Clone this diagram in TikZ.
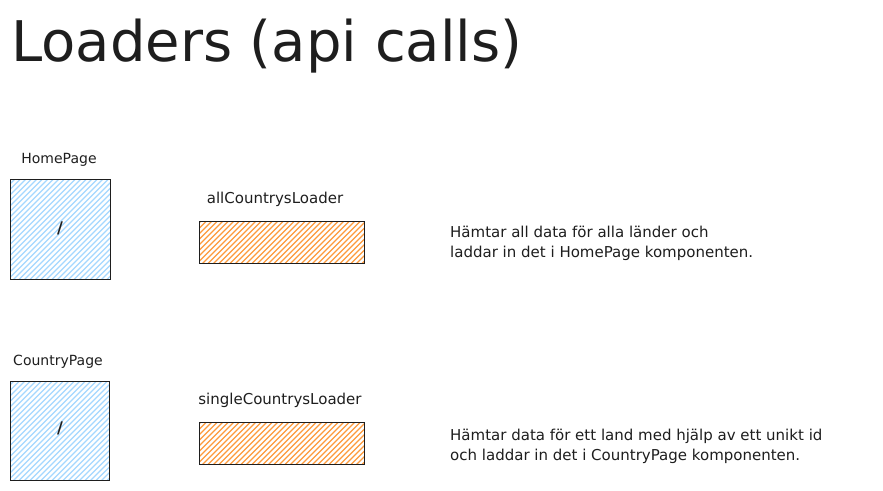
\documentclass[tikz,border=0pt]{standalone}
\usepackage{fontspec}
\setmainfont{DejaVu Sans}
\definecolor{ink}{HTML}{1E1E1E}
\definecolor{hblue}{HTML}{A5D8FF}
\definecolor{horange}{HTML}{FD9A3C}
\newcommand\hatchbox[3]{%
  \begin{scope}
    \clip (#1.south west) rectangle (#1.north east);
    \foreach \k in {0,...,80}
      \draw[#2, line width=1.1pt] (#1.south west) ++(\k*#3-120,2) -- ++(130,-130);
  \end{scope}}
\begin{document}
\begin{tikzpicture}[x=1pt,y=-1pt,
  boxline/.style={draw=ink, line width=1.1pt},
  lbl/.style={font=\fontsize{14}{16}\selectfont, text=ink, inner sep=0pt},
  biglbl/.style={font=\fontsize{15}{17}\selectfont, text=ink, inner sep=0pt},
  desc/.style={font=\fontsize{15}{20}\selectfont, text=ink, align=left, anchor=west, inner sep=0pt},
  pagebox/.style={minimum width=99pt, minimum height=99pt, inner sep=0pt},
  loaderbox/.style={minimum width=164pt, minimum height=41pt, inner sep=0pt},
  slash/.style={font=\fontsize{16}{18}\selectfont\bfseries, text=ink, inner sep=0pt}]
\useasboundingbox[fill=white] (0,0) rectangle (883,490);

\node[anchor=base west, inner sep=0pt, text=ink, font=\fontsize{56}{60}\selectfont] (title) at (11,61) {Loaders (api calls)};

% Home page row
\node[lbl] (homelbl) at (59,160) {HomePage};
\node[pagebox] (home) at (60.5,229.5) {};
\hatchbox{home}{hblue}{5.5}
\draw[boxline] (home.south west) rectangle (home.north east);
\node[slash] (homeslash) at (60,228) {/};

\node[biglbl] (alllbl) at (275,199) {allCountrysLoader};
\node[loaderbox] (all) at (282,242.5) {};
\hatchbox{all}{horange}{5.5}
\draw[boxline] (all.south west) rectangle (all.north east);

\node[desc] (alldesc) at (450,243) {Hämtar all data för alla länder och\\laddar in det i HomePage komponenten.};

% Country page row
\node[lbl] (countrylbl) at (58,362) {CountryPage};
\node[pagebox] (country) at (60,431) {};
\hatchbox{country}{hblue}{5.5}
\draw[boxline] (country.south west) rectangle (country.north east);
\node[slash] (countryslash) at (60,428) {/};

\node[biglbl] (singlelbl) at (280,400) {singleCountrysLoader};
\node[loaderbox] (single) at (282,443.5) {};
\hatchbox{single}{horange}{5.5}
\draw[boxline] (single.south west) rectangle (single.north east);

\node[desc] (singledesc) at (450,446) {Hämtar data för ett land med hjälp av ett unikt id\\och laddar in det i CountryPage komponenten.};
\end{tikzpicture}
\end{document}
